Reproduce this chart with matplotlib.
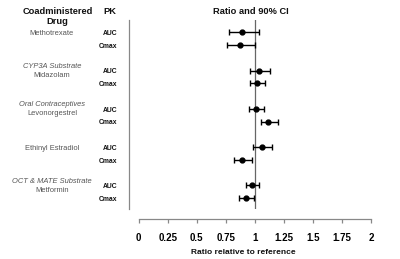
import numpy as np
import matplotlib
matplotlib.use("Agg")
import matplotlib.pyplot as plt
import matplotlib.transforms as mtransforms

plt.rcParams['font.family'] = ['Liberation Sans', 'DejaVu Sans']

# data
groups = [("", "Methotrexate"),
          ("CYP3A Substrate", "Midazolam"),
          ("Oral Contraceptives", "Levonorgestrel"),
          ("", "Ethinyl Estradiol"),
          ("OCT & MATE Substrate", "Metformin")]
pk = ["AUC", "Cmax"]
ratio = [0.89, 0.87, 1.035, 1.015, 1.007, 1.115, 1.058, 0.889, 0.972, 0.92]
lower = [0.78, 0.757, 0.955, 0.96, 0.947, 1.05, 0.986, 0.817, 0.926, 0.863]
upper = [1.035, 1.0, 1.13, 1.09, 1.075, 1.196, 1.145, 0.978, 1.035, 0.99]
xticks = [0, 0.25, 0.5, 0.75, 1, 1.25, 1.5, 1.75, 2]
xticklabels = ["0", "0.25", "0.5", "0.75", "1", "1.25", "1.5", "1.75", "2"]

W, H = 400, 259
fig = plt.figure(figsize=(4, 2.59), dpi=100)

# row positions: 3 units per group, 1 unit between AUC and Cmax
ypos = np.array([3 * g + k for g in range(len(groups)) for k in range(2)])
ratio = np.array(ratio)
lower = np.array(lower)
upper = np.array(upper)

ax = fig.add_axes([129 / W, 50 / H, 251 / W, 189 / H])
ax.set_xlim(-0.0835, 2.077)
ax.set_ylim(13.86, -0.965)

ax.errorbar(ratio, ypos, xerr=[ratio - lower, upper - ratio], fmt='o', color='black',
            ms=3.5, lw=1.0, capsize=2.0, capthick=1.0)
ax.axvline(1, color='#666666', lw=0.9, zorder=0)

for s in ['top', 'right']:
    ax.spines[s].set_visible(False)
ax.spines['left'].set_color('#888888')
ax.spines['left'].set_linewidth(0.9)
ax.spines['bottom'].set_color('#888888')
ax.spines['bottom'].set_linewidth(0.9)
ax.spines['bottom'].set_position(('outward', 7.5))
ax.spines['bottom'].set_bounds(0, 2)
ax.set_yticks([])
ax.set_xticks(xticks)
ax.set_xticklabels(xticklabels, fontsize=7, fontweight='bold')
ax.tick_params(axis='x', length=3, width=0.9, color='#888888', pad=7)

# labels on the left: x in figure fraction, y in row units
trans = mtransforms.blended_transform_factory(fig.transFigure, ax.transData)

for g, (cls, drug) in enumerate(groups):
    y0 = 3 * g
    if cls:
        ax.text(52 / W, y0 - 0.3, cls, transform=trans, ha='center', va='center',
                fontsize=5.4, style='italic', color='#555555', clip_on=False)
        ax.text(52 / W, y0 + 0.37, drug, transform=trans, ha='center', va='center',
                fontsize=5.4, color='#555555', clip_on=False)
    else:
        ax.text(52 / W, y0 + 0.1, drug, transform=trans, ha='center', va='center',
                fontsize=5.4, color='#555555', clip_on=False)
    for k, p in enumerate(pk):
        ax.text(117.5 / W, y0 + k + 0.1, p, transform=trans, ha='right', va='center',
                fontsize=4.9, fontweight='bold', color='#111111', clip_on=False)

fig.text(57.5 / W, 1 - 11.7 / H, "Coadministered", ha='center', va='center',
         fontsize=6.7, fontweight='bold', color='#111111')
fig.text(57.5 / W, 1 - 21.7 / H, "Drug", ha='center', va='center',
         fontsize=6.7, fontweight='bold', color='#111111')
fig.text(110 / W, 1 - 11.7 / H, "PK", ha='center', va='center',
         fontsize=6.7, fontweight='bold', color='#111111')
fig.text(250.5 / W, 1 - 11.7 / H, "Ratio and 90% CI", ha='center', va='center',
         fontsize=6.7, fontweight='bold', color='#111111')
fig.text(243 / W, 1 - 252.7 / H, "Ratio relative to reference", ha='center', va='center',
         fontsize=6, fontweight='bold', color='#111111')

fig.savefig("out.png", dpi=100)
